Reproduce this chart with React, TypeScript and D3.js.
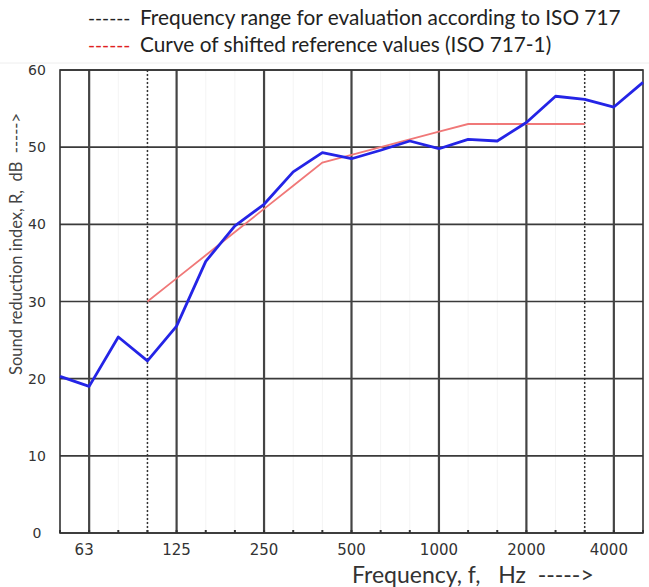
import React from "react";
import * as d3 from "d3";

// one-third octave bands, 50 Hz .. 5000 Hz
const bands = [50, 63, 80, 100, 125, 160, 200, 250, 315, 400, 500, 630, 800, 1000, 1250, 1600, 2000, 2500, 3150, 4000, 5000];
// measured sound reduction index R (dB)
const measured = [20.3, 19.0, 25.4, 22.3, 26.8, 35.2, 39.8, 42.6, 46.8, 49.3, 48.5, 49.6, 50.8, 49.8, 51.0, 50.8, 53.2, 56.6, 56.2, 55.2, 58.4];
// shifted reference curve (ISO 717-1), 100 Hz .. 3150 Hz
const refBands = [100, 125, 160, 200, 250, 315, 400, 500, 630, 800, 1000, 1250, 1600, 2000, 2500, 3150];
const refValues = [30, 33, 36, 39, 42, 45, 48, 49, 50, 51, 52, 53, 53, 53, 53, 53];

const xTickLabels = [63, 125, 250, 500, 1000, 2000, 4000];
const yTicks = [0, 10, 20, 30, 40, 50, 60];
const evalRange = [100, 3150];

const W = 649;
const H = 587;
const margin = { top: 70, right: 6, bottom: 54, left: 60 };

export default function App() {
  const idx = (f: number) => bands.indexOf(f);

  const x = d3
    .scaleLinear()
    .domain([0, bands.length - 1])
    .range([margin.left, W - margin.right]);

  const y = d3
    .scaleLinear()
    .domain([0, 60])
    .range([H - margin.bottom, margin.top]);

  const line = d3
    .line<[number, number]>()
    .x((d) => x(d[0]))
    .y((d) => y(d[1]));

  const measuredPath = line(measured.map((v, i) => [i, v]));
  const refPath = line(refValues.map((v, i) => [idx(refBands[i]), v]));

  const x0 = x(0);
  const x1 = x(bands.length - 1);
  const yTop = y(60);
  const yBot = y(0);

  const labelFont = "'DejaVu Sans', sans-serif";
  const textFont = "Lato, 'Open Sans', sans-serif";

  return (
    <svg
      width={W}
      height={H}
      style={{ position: "absolute", left: 0, top: 0, background: "#fff" }}
    >
      {/* legend */}
      <g fontFamily={textFont} fontSize={20.8} fill="#222">
        <text x={88} y={25} style={{ whiteSpace: "pre" }} fontSize={19}>------</text>
        <text x={140} y={25}>Frequency range for evaluation according to ISO 717</text>
        <text x={88} y={52} style={{ whiteSpace: "pre" }} fontSize={19} fill="#e02020">------</text>
        <text x={140} y={52}>Curve of shifted reference values (ISO 717-1)</text>
      </g>
      <line x1={0} x2={W} y1={63} y2={63} stroke="#eee" strokeWidth={1} />

      {/* faint minor grid */}
      {bands.map((f, i) => (
        <line key={"mg" + f} x1={x(i)} x2={x(i)} y1={yTop} y2={yBot} stroke="#f4f4f4" strokeWidth={1} />
      ))}

      {/* horizontal grid */}
      {yTicks.map((t) => (
        <line key={"h" + t} x1={x0} x2={x1} y1={y(t)} y2={y(t)} stroke="#3a3a3a" strokeWidth={1.6} />
      ))}

      {/* major vertical grid */}
      {xTickLabels.map((f) => (
        <line key={"v" + f} x1={x(idx(f))} x2={x(idx(f))} y1={yTop} y2={yBot} stroke="#444" strokeWidth={2.2} />
      ))}

      {/* evaluation range */}
      {evalRange.map((f) => (
        <line
          key={"e" + f}
          x1={x(idx(f))}
          x2={x(idx(f))}
          y1={yTop}
          y2={yBot}
          stroke="#333"
          strokeWidth={1.5}
          strokeDasharray="2,2"
        />
      ))}

      {/* border */}
      <rect x={x0} y={yTop} width={x1 - x0} height={yBot - yTop} fill="none" stroke="#333" strokeWidth={1.6} />

      {/* minor ticks */}
      {bands.map((f, i) => (
        <line key={"t" + f} x1={x(i)} x2={x(i)} y1={yBot} y2={yBot - 3} stroke="#333" strokeWidth={2} />
      ))}

      {/* curves */}
      <path d={refPath || ""} fill="none" stroke="#f07878" strokeWidth={1.8} />
      <path d={measuredPath || ""} fill="none" stroke="#2424e6" strokeWidth={2.8} strokeLinejoin="round" />

      {/* y tick labels */}
      <g fontFamily={labelFont} fontSize={14} fill="#333" textAnchor="middle">
        {yTicks.map((t) => (
          <text key={"yl" + t} x={37} y={y(t) + 5}>
            {t}
          </text>
        ))}
      </g>

      {/* x tick labels */}
      <g fontFamily={labelFont} fontSize={15} fill="#333" textAnchor="middle">
        {xTickLabels.map((f) => (
          <text key={"xl" + f} x={x(idx(f)) - (f === 63 || f === 4000 ? 5 : 0)} y={555}>
            {f}
          </text>
        ))}
      </g>

      {/* axis titles */}
      <text
        x={352}
        y={583}
        fontFamily={textFont}
        fontSize={23}
        fill="#333"
        style={{ whiteSpace: "pre" }}
      >
        {"Frequency, f,   Hz  ----->"}
      </text>
      <text
        transform={`translate(22,${(383 + 105) / 2}) rotate(-90)`}
        textAnchor="middle"
        fontFamily={textFont}
        fontSize={16.5}
        fill="#444"
        style={{ whiteSpace: "pre" }}
      >
        {"Sound reduction index, R,  dB  ----->"}
      </text>
    </svg>
  );
}
